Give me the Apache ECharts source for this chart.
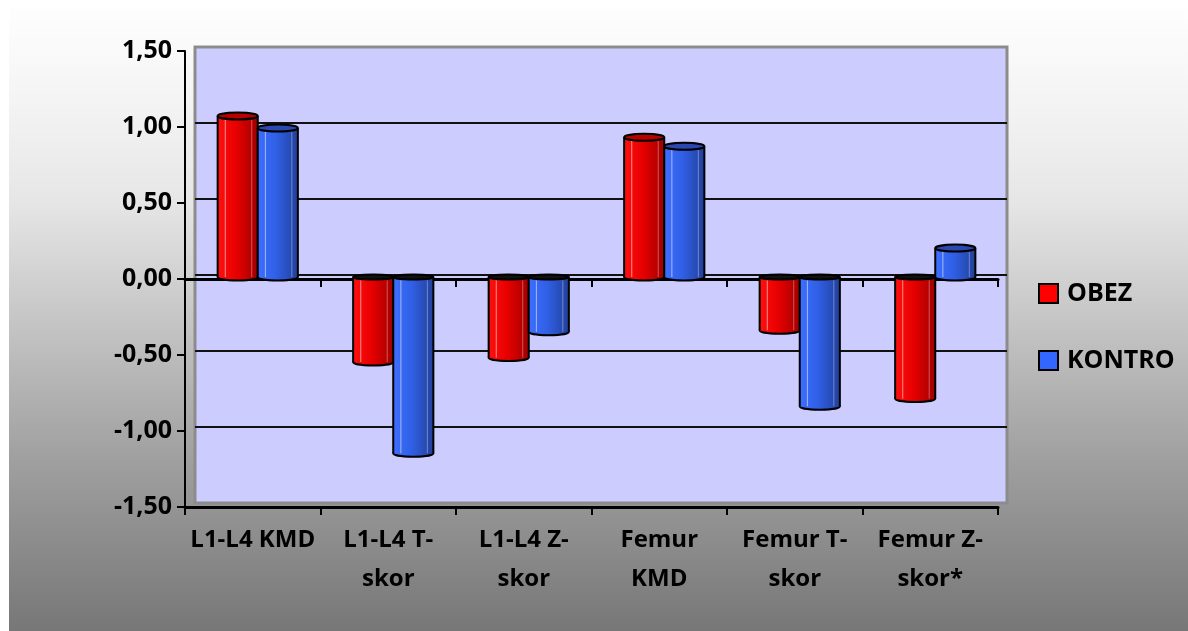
<!DOCTYPE html>
<html>
<head>
<meta charset="utf-8">
<script src="https://cdn.jsdelivr.net/npm/echarts@6/dist/echarts.min.js"></script>
<style>
html,body{margin:0;padding:0;background:#fff;}
#c{width:1188px;height:631px;}
</style>
</head>
<body>
<div id="c"></div>
<script>
// ---- data ----
const categories = ['L1-L4 KMD', 'L1-L4 T-\nskor', 'L1-L4 Z-\nskor', 'Femur\nKMD', 'Femur T-\nskor', 'Femur Z-\nskor*'];
const seriesNames = ['OBEZ', 'KONTRO'];
const obez = [1.06, -0.56, -0.53, 0.92, -0.35, -0.80];
const kontro = [0.98, -1.16, -0.36, 0.86, -0.85, 0.19];
const yMin = -1.5, yMax = 1.5, yStep = 0.5;

// ---- styles ----
const FONT = '"Open Sans", "Liberation Sans", sans-serif';
const fmt = v => v.toFixed(2).replace('.', ',');
const colors = ['#ff0000', '#3366ff'];
const bodyStops = [
  [{offset:0,color:'#ff1010'},{offset:0.45,color:'#e80000'},{offset:1,color:'#a00000'}],
  [{offset:0,color:'#3d6eff'},{offset:0.45,color:'#3060e6'},{offset:1,color:'#22409a'}]
];
const capColors = ['#b80000', '#2a48b0'];

function renderCyl(params, api) {
  const si = params.seriesIndex - 0;
  const cat = api.value(0), val = api.value(1);
  const band = api.size([1, 0])[0];
  const half = band * 0.148;
  const off = (si === 0 ? -1 : 1) * half;
  const p0 = api.coord([cat, 0]);
  const p1 = api.coord([cat, val]);
  const cx = p0[0] + off;
  const yTop = Math.min(p0[1], p1[1]);
  const yBot = Math.max(p0[1], p1[1]);
  const ry = 3.5;
  const grad = () => new echarts.graphic.LinearGradient(0, 0, 1, 0, bodyStops[si]);
  const children = [
    {type:'ellipse', shape:{cx:cx, cy:yBot, rx:half, ry:ry}, style:{fill:grad(), stroke:'#000', lineWidth:2}},
    {type:'rect', shape:{x:cx-half, y:yTop, width:half*2, height:yBot-yTop}, style:{fill:grad()}},
    {type:'line', shape:{x1:cx-half+half*0.38, y1:yTop+ry, x2:cx-half+half*0.38, y2:yBot}, style:{stroke:'rgba(255,255,255,0.55)', lineWidth:1}},
    {type:'line', shape:{x1:cx+half*0.7, y1:yTop+ry, x2:cx+half*0.7, y2:yBot}, style:{stroke:'rgba(255,255,255,0.35)', lineWidth:1}},
    {type:'line', shape:{x1:cx-half, y1:yTop, x2:cx-half, y2:yBot}, style:{stroke:'#000', lineWidth:2}},
    {type:'line', shape:{x1:cx+half, y1:yTop, x2:cx+half, y2:yBot}, style:{stroke:'#000', lineWidth:2}},
    {type:'ellipse', shape:{cx:cx, cy:yTop, rx:half, ry:(val >= 0 ? ry : 2.5)}, style:{fill:(val >= 0 ? capColors[si] : '#111'), stroke:'#000', lineWidth:2}}
  ];
  return {type:'group', children: children};
}

const chart = echarts.init(document.getElementById('c'), null, {renderer:'canvas'});
const xFont = {fontFamily: FONT, fontWeight: 'bold', fontSize: 24, color: '#000'};
const yFont = {fontFamily: FONT, fontWeight: 'bold', fontSize: 25, color: '#000'};

const option = {
  animation: false,
  graphic: [{
    type: 'rect', z: -10, silent: true,
    shape: {x: 9, y: 8, width: 1179, height: 623},
    style: {fill: new echarts.graphic.LinearGradient(0, 0, 0, 1, [
      {offset: 0, color: '#fefefe'},
      {offset: 0.15, color: '#f4f4f4'},
      {offset: 0.31, color: '#e6e6e6'},
      {offset: 0.71, color: '#a2a2a2'},
      {offset: 1, color: '#777777'}
    ])}
  }],
  grid: [
    // back wall
    {left: 195, top: 47, width: 812, height: 456, show: true, backgroundColor: '#ccccff', borderColor: '#8c8c8c', borderWidth: 3},
    // axes
    {left: 185, top: 51, width: 813, height: 456},
    // bars (mid depth)
    {left: 190, top: 49, width: 813, height: 456}
  ],
  xAxis: [
    {gridIndex: 0, type: 'category', data: categories, show: false},
    {gridIndex: 1, type: 'category', data: categories, position: 'bottom',
      axisLine: {onZero: false, lineStyle: {color: '#000', width: 3}},
      axisTick: {show: true, length: 8, lineStyle: {color: '#000', width: 2}},
      axisLabel: Object.assign({interval: 0, margin: 14, lineHeight: 39, align: 'center'}, xFont)},
    {gridIndex: 1, type: 'category', data: categories, position: 'bottom',
      axisLine: {onZero: true, onZeroAxisIndex: 1, lineStyle: {color: '#000', width: 3}},
      axisTick: {show: true, length: 8, lineStyle: {color: '#000', width: 2}},
      axisLabel: {show: false}},
    {gridIndex: 2, type: 'category', data: categories, show: false}
  ],
  yAxis: [
    {gridIndex: 0, type: 'value', min: yMin, max: yMax, interval: yStep,
      axisLine: {show: false}, axisTick: {show: false}, axisLabel: {show: false},
      splitLine: {show: true, showMinLine: false, showMaxLine: false, lineStyle: {color: '#111', width: 2}}},
    {gridIndex: 1, type: 'value', min: yMin, max: yMax, interval: yStep,
      axisLine: {show: true, onZero: false, lineStyle: {color: '#000', width: 2}},
      axisTick: {show: true, length: 8, lineStyle: {color: '#000', width: 2}},
      splitLine: {show: false},
      axisLabel: Object.assign({margin: 13, formatter: fmt}, yFont)},
    {gridIndex: 2, type: 'value', min: yMin, max: yMax, interval: yStep, show: false, splitLine: {show: false}}
  ],
  legend: {
    orient: 'vertical', left: 1038, top: 281, padding: 0,
    itemWidth: 19, itemHeight: 19, itemGap: 42,
    icon: 'rect',
    itemStyle: {borderColor: '#000', borderWidth: 2},
    textStyle: {fontFamily: FONT, fontWeight: 'bold', fontSize: 25, color: '#000', lineHeight: 19, padding: [0, 0, 0, 4]},
    data: seriesNames
  },
  series: [
    {name: seriesNames[0], type: 'custom', xAxisIndex: 3, yAxisIndex: 2, z: 5,
      itemStyle: {color: colors[0]}, renderItem: renderCyl,
      data: obez.map((v, i) => [i, v]), encode: {x: 0, y: 1}},
    {name: seriesNames[1], type: 'custom', xAxisIndex: 3, yAxisIndex: 2, z: 5,
      itemStyle: {color: colors[1]}, renderItem: renderCyl,
      data: kontro.map((v, i) => [i, v]), encode: {x: 0, y: 1}}
  ]
};
chart.setOption(option);
</script>
</body>
</html>
